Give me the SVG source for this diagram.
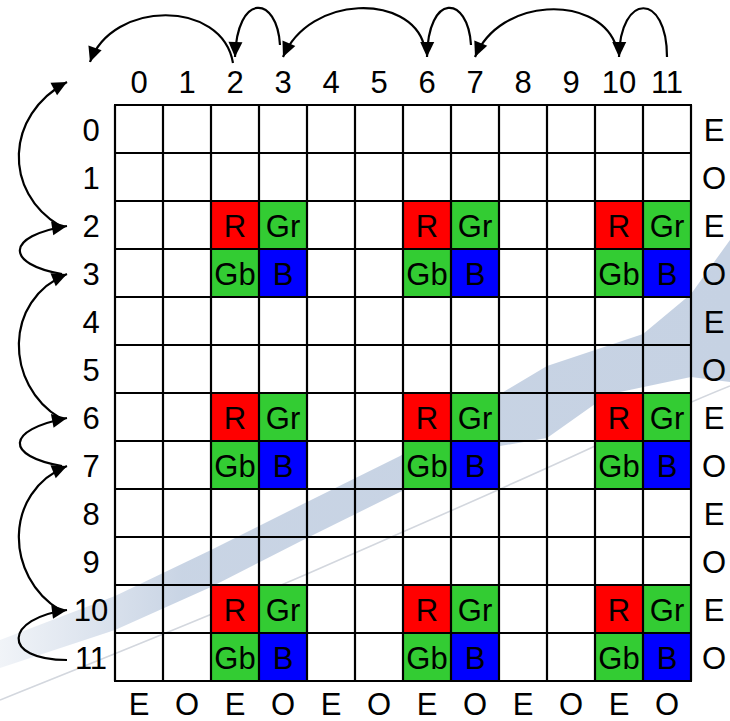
<svg xmlns="http://www.w3.org/2000/svg" width="730" height="721" viewBox="0 0 730 721">
  <defs>
    <marker id="ah" markerUnits="userSpaceOnUse" markerWidth="16" markerHeight="14" refX="15" refY="7" orient="auto" overflow="visible">
      <path d="M0,0 L15,7 L0,14 z" fill="#000"/>
    </marker>
    <linearGradient id="bandFade" x1="0" y1="0" x2="730" y2="0" gradientUnits="userSpaceOnUse">
      <stop offset="0" stop-color="#c6d2e3" stop-opacity="0.25"/>
      <stop offset="0.25" stop-color="#c6d2e3" stop-opacity="0.95"/>
      <stop offset="1" stop-color="#c6d2e3" stop-opacity="1"/>
    </linearGradient>
    <style>
      text { font-family: "Liberation Sans", Arial, sans-serif; font-size: 31px; fill: #000; text-anchor: middle; }
      .grid { fill: none; stroke: #000; stroke-width: 2.2; }
      .r { fill: #ff0000; }
      .g { fill: #33cc33; }
      .b { fill: #0000ff; }
      .conn { fill: none; stroke: #000; stroke-width: 2.2; marker-end: url(#ah); }
    </style>
  </defs>

  <!-- page background with swoosh -->
  <g id="background">
    <rect x="0" y="0" width="730" height="721" fill="#ffffff"/>
    <path fill="url(#bandFade)" d="M0,640 L115,596 L211,550 L307,502 L400,456 L500,394 L547,366 L595,350 L643,334 L691,294 L730,240 L730,382 L691,377 L620,392 L595,404 L547,438 L500,446 L400,492 L307,538 L211,587 L115,630 L0,668 Z"/>
    <path fill="none" stroke="#d3d7de" stroke-width="1.6" d="M0,700 C100,660 200,620 300,577 C400,533 500,490 593,447 C650,420 700,398 730,386"/>
  </g>

  <!-- Bayer 2x2 blocks -->
  <g id="quad-2-2">
    <rect class="r" x="211" y="201" width="48" height="48"/><text x="235" y="237">R</text>
    <rect class="g" x="259" y="201" width="48" height="48"/><text x="283" y="237">Gr</text>
    <rect class="g" x="211" y="249" width="48" height="48"/><text x="235" y="285">Gb</text>
    <rect class="b" x="259" y="249" width="48" height="48"/><text x="283" y="285">B</text>
  </g>
  <g id="quad-2-6">
    <rect class="r" x="403" y="201" width="48" height="48"/><text x="427" y="237">R</text>
    <rect class="g" x="451" y="201" width="48" height="48"/><text x="475" y="237">Gr</text>
    <rect class="g" x="403" y="249" width="48" height="48"/><text x="427" y="285">Gb</text>
    <rect class="b" x="451" y="249" width="48" height="48"/><text x="475" y="285">B</text>
  </g>
  <g id="quad-2-10">
    <rect class="r" x="595" y="201" width="48" height="48"/><text x="619" y="237">R</text>
    <rect class="g" x="643" y="201" width="48" height="48"/><text x="667" y="237">Gr</text>
    <rect class="g" x="595" y="249" width="48" height="48"/><text x="619" y="285">Gb</text>
    <rect class="b" x="643" y="249" width="48" height="48"/><text x="667" y="285">B</text>
  </g>
  <g id="quad-6-2">
    <rect class="r" x="211" y="393" width="48" height="48"/><text x="235" y="429">R</text>
    <rect class="g" x="259" y="393" width="48" height="48"/><text x="283" y="429">Gr</text>
    <rect class="g" x="211" y="441" width="48" height="48"/><text x="235" y="477">Gb</text>
    <rect class="b" x="259" y="441" width="48" height="48"/><text x="283" y="477">B</text>
  </g>
  <g id="quad-6-6">
    <rect class="r" x="403" y="393" width="48" height="48"/><text x="427" y="429">R</text>
    <rect class="g" x="451" y="393" width="48" height="48"/><text x="475" y="429">Gr</text>
    <rect class="g" x="403" y="441" width="48" height="48"/><text x="427" y="477">Gb</text>
    <rect class="b" x="451" y="441" width="48" height="48"/><text x="475" y="477">B</text>
  </g>
  <g id="quad-6-10">
    <rect class="r" x="595" y="393" width="48" height="48"/><text x="619" y="429">R</text>
    <rect class="g" x="643" y="393" width="48" height="48"/><text x="667" y="429">Gr</text>
    <rect class="g" x="595" y="441" width="48" height="48"/><text x="619" y="477">Gb</text>
    <rect class="b" x="643" y="441" width="48" height="48"/><text x="667" y="477">B</text>
  </g>
  <g id="quad-10-2">
    <rect class="r" x="211" y="585" width="48" height="48"/><text x="235" y="621">R</text>
    <rect class="g" x="259" y="585" width="48" height="48"/><text x="283" y="621">Gr</text>
    <rect class="g" x="211" y="633" width="48" height="48"/><text x="235" y="669">Gb</text>
    <rect class="b" x="259" y="633" width="48" height="48"/><text x="283" y="669">B</text>
  </g>
  <g id="quad-10-6">
    <rect class="r" x="403" y="585" width="48" height="48"/><text x="427" y="621">R</text>
    <rect class="g" x="451" y="585" width="48" height="48"/><text x="475" y="621">Gr</text>
    <rect class="g" x="403" y="633" width="48" height="48"/><text x="427" y="669">Gb</text>
    <rect class="b" x="451" y="633" width="48" height="48"/><text x="475" y="669">B</text>
  </g>
  <g id="quad-10-10">
    <rect class="r" x="595" y="585" width="48" height="48"/><text x="619" y="621">R</text>
    <rect class="g" x="643" y="585" width="48" height="48"/><text x="667" y="621">Gr</text>
    <rect class="g" x="595" y="633" width="48" height="48"/><text x="619" y="669">Gb</text>
    <rect class="b" x="643" y="633" width="48" height="48"/><text x="667" y="669">B</text>
  </g>

  <!-- 12x12 pixel grid -->
  <g id="grid">
    <path class="grid" d="M115,105 V681 M163,105 V681 M211,105 V681 M259,105 V681 M307,105 V681 M355,105 V681 M403,105 V681 M451,105 V681 M499,105 V681 M547,105 V681 M595,105 V681 M643,105 V681 M691,105 V681
      M114,105 H692 M114,153 H692 M114,201 H692 M114,249 H692 M114,297 H692 M114,345 H692 M114,393 H692 M114,441 H692 M114,489 H692 M114,537 H692 M114,585 H692 M114,633 H692 M114,681 H692"/>
  </g>

  <!-- column indices -->
  <g id="col-labels">
    <text x="139" y="93">0</text><text x="187" y="93">1</text><text x="235" y="93">2</text><text x="283" y="93">3</text>
    <text x="331" y="93">4</text><text x="379" y="93">5</text><text x="427" y="93">6</text><text x="475" y="93">7</text>
    <text x="523" y="93">8</text><text x="571" y="93">9</text><text x="619" y="93">10</text><text x="667" y="93">11</text>
  </g>

  <!-- row indices -->
  <g id="row-labels">
    <text x="91" y="141">0</text><text x="91" y="189">1</text><text x="91" y="237">2</text><text x="91" y="285">3</text>
    <text x="91" y="333">4</text><text x="91" y="381">5</text><text x="91" y="429">6</text><text x="91" y="477">7</text>
    <text x="91" y="525">8</text><text x="91" y="573">9</text><text x="91" y="621">10</text><text x="91" y="669">11</text>
  </g>

  <!-- even / odd row markers -->
  <g id="row-parity">
    <text x="714" y="141">E</text><text x="714" y="189">O</text><text x="714" y="237">E</text><text x="714" y="285">O</text>
    <text x="714" y="333">E</text><text x="714" y="381">O</text><text x="714" y="429">E</text><text x="714" y="477">O</text>
    <text x="714" y="525">E</text><text x="714" y="573">O</text><text x="714" y="621">E</text><text x="714" y="669">O</text>
  </g>

  <!-- even / odd column markers -->
  <g id="col-parity">
    <text x="139" y="715">E</text><text x="187" y="715">O</text><text x="235" y="715">E</text><text x="283" y="715">O</text>
    <text x="331" y="715">E</text><text x="379" y="715">O</text><text x="427" y="715">E</text><text x="475" y="715">O</text>
    <text x="523" y="715">E</text><text x="571" y="715">O</text><text x="619" y="715">E</text><text x="667" y="715">O</text>
  </g>

  <!-- readout order arrows -->
  <g id="connectors">
    <path class="conn" d="M667,57 C667,-8 620,-8 619,57"/>
    <path class="conn" d="M615,43 C595,-5 500,-3 475,57"/>
    <path class="conn" d="M471,45 C468,-5 428,-8 427,57"/>
    <path class="conn" d="M424,45 C410,-6 310,-6 283,57"/>
    <path class="conn" d="M280,45 C277,-5 237,-8 235,57"/>
    <path class="conn" d="M233,63 C222,-1 112,0 90,62"/>

    <path class="conn" d="M67,660 C0,660 5,618 67,610"/>
    <path class="conn" d="M60,610 C5,577 3,492 67,466"/>
    <path class="conn" d="M62,466 C5,456 5,430 67,418"/>
    <path class="conn" d="M60,418 C5,385 3,300 67,274"/>
    <path class="conn" d="M62,274 C5,264 5,236 67,226"/>
    <path class="conn" d="M60,226 C3,192 5,115 67,82"/>
  </g>
</svg>
